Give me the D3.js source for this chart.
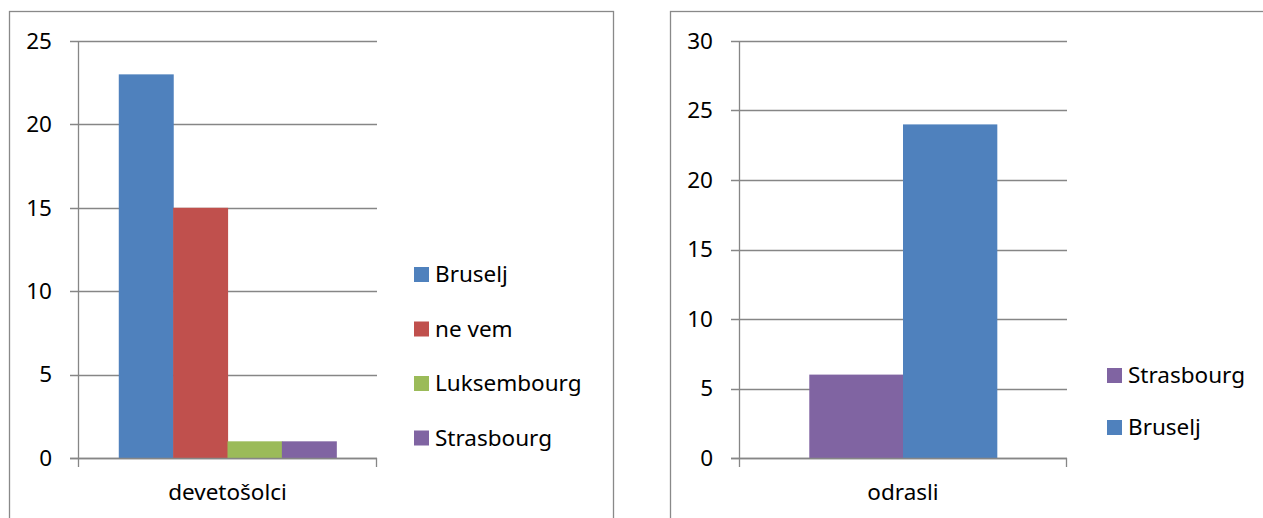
<!DOCTYPE html>
<html><head><meta charset="utf-8">
<script src="https://cdn.jsdelivr.net/npm/d3@7"></script>
<style>html,body{margin:0;padding:0;background:#fff;overflow:hidden}</style>
</head><body>
<script>
// Chart 1: devetošolci
const categories1 = ["devetošolci"];
const series1 = ["Bruselj", "ne vem", "Luksembourg", "Strasbourg"];
const values1 = [23, 15, 1, 1];
const ticks1 = [0, 5, 10, 15, 20, 25];
// Chart 2: odrasli
const categories2 = ["odrasli"];
const series2 = ["Strasbourg", "Bruselj"];
const values2 = [6, 24];
const ticks2 = [0, 5, 10, 15, 20, 25, 30];

const colorMap = {"Bruselj":"#4F81BD","ne vem":"#C0504D","Luksembourg":"#9BBB59","Strasbourg":"#8064A2"};
const FONT = "'Noto Sans', sans-serif";
const FS = 22.5;
const GRID = "#868686";

const svg = d3.select("body").append("svg").attr("width",1263).attr("height",518);

function panel(cfg){
  const g = svg.append("g");
  g.append("rect").attr("x",cfg.bx+0.5).attr("y",cfg.by+0.5).attr("width",cfg.bw).attr("height",cfg.bh)
    .attr("fill","#fff").attr("stroke","#898989").attr("stroke-width",1.3);
  const y = d3.scaleLinear().domain([0, d3.max(cfg.ticks)]).range([cfg.y0, cfg.yTop]);
  const x = d3.scaleBand().domain(cfg.categories).range([cfg.x0, cfg.x1]);
  // gridlines
  g.selectAll(".grid").data(cfg.ticks).join("line")
    .attr("x1",cfg.x0-8).attr("x2",cfg.x1)
    .attr("y1",d=>Math.round(y(d))+0.5).attr("y2",d=>Math.round(y(d))+0.5)
    .attr("stroke",GRID).attr("stroke-width",1.3);
  // tick labels
  g.selectAll(".tl").data(cfg.ticks).join("text")
    .attr("x",cfg.x0-26).attr("y",d=>y(d)).attr("dy","0.35em")
    .attr("text-anchor","end").attr("font-family",FONT).attr("font-size",FS).attr("fill","#000")
    .text(d=>d);
  // bars
  const band = x.bandwidth();
  const inner = band/(cfg.series.length+1.5);
  const xs = d3.scaleBand().domain(cfg.series).range([x(cfg.categories[0])+inner*0.75, x(cfg.categories[0])+band-inner*0.75]);
  g.selectAll(".bar").data(cfg.series.map((s,i)=>({s,v:cfg.values[i]}))).join("rect")
    .attr("x",d=>xs(d.s)).attr("width",xs.bandwidth()+0.6)
    .attr("y",d=>y(d.v)).attr("height",d=>y(0)-y(d.v))
    .attr("fill",d=>colorMap[d.s]);
  // axes lines
  g.append("line").attr("x1",cfg.x0+0.5).attr("x2",cfg.x0+0.5).attr("y1",cfg.yTop).attr("y2",cfg.y0+9)
    .attr("stroke",GRID).attr("stroke-width",1.3);
  g.append("line").attr("x1",cfg.x0-8).attr("x2",cfg.x1).attr("y1",Math.round(y(0))+0.5).attr("y2",Math.round(y(0))+0.5)
    .attr("stroke",GRID).attr("stroke-width",1.3);
  g.append("line").attr("x1",cfg.x1-0.5).attr("x2",cfg.x1-0.5).attr("y1",cfg.y0).attr("y2",cfg.y0+9)
    .attr("stroke",GRID).attr("stroke-width",1.3);
  // category label
  g.selectAll(".cl").data(cfg.categories).join("text")
    .attr("x",d=>x(d)+band/2).attr("y",cfg.y0+42)
    .attr("text-anchor","middle").attr("font-family",FONT).attr("font-size",FS).attr("fill","#000")
    .text(d=>d);
  // legend
  const lg = g.selectAll(".lg").data(cfg.legend).join("g")
    .attr("transform",(d,i)=>`translate(${cfg.lx},${cfg.ly + i*cfg.lstep})`);
  lg.append("rect").attr("x",0).attr("y",-7.5).attr("width",15).attr("height",15).attr("fill",d=>colorMap[d]);
  lg.append("text").attr("x",21).attr("y",0).attr("dy","0.35em")
    .attr("font-family",FONT).attr("font-size",FS).attr("fill","#000").text(d=>d);
}

panel({bx:9,by:11,bw:604,bh:520,x0:78,x1:377,y0:458,yTop:41,
  categories:categories1,series:series1,values:values1,ticks:ticks1,
  legend:series1,lx:414,ly:274.5,lstep:54.5});
panel({bx:670,by:11,bw:600,bh:520,x0:739,x1:1067,y0:458,yTop:41,
  categories:categories2,series:series2,values:values2,ticks:ticks2,
  legend:series2,lx:1107,ly:375.5,lstep:52});
</script>
</body></html>
